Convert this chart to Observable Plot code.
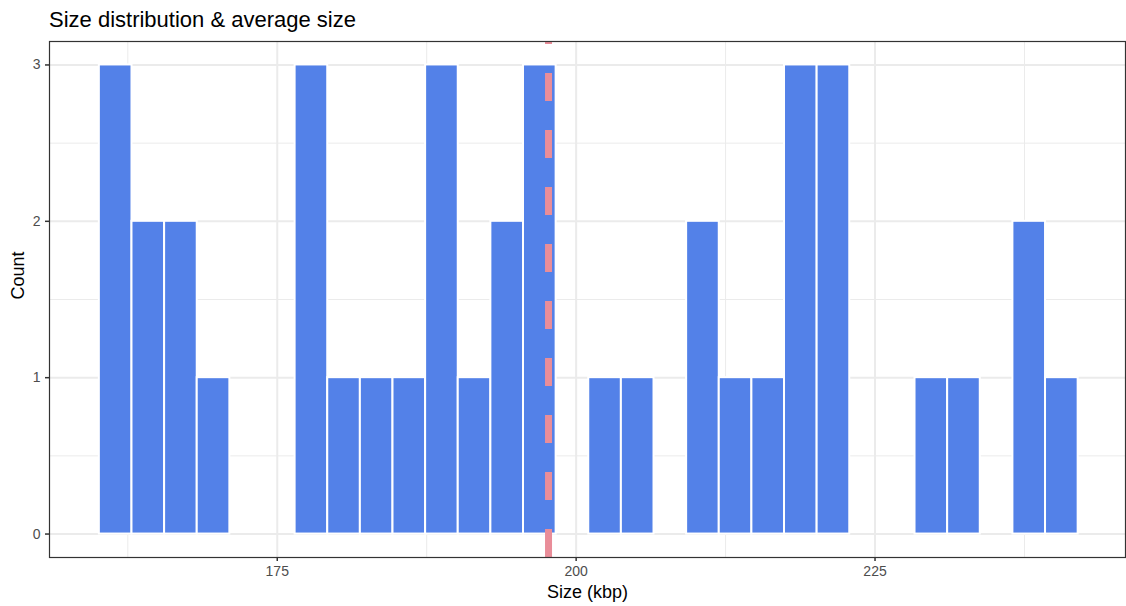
<!DOCTYPE html>
<html><head><meta charset="utf-8">
<script src="https://cdn.jsdelivr.net/npm/d3@7"></script>
<script src="https://cdn.jsdelivr.net/npm/@observablehq/plot@0.6"></script>
<style>
html,body{margin:0;padding:0;background:#fff;overflow:hidden;}
#title{position:relative;height:35px;font-family:"Liberation Sans",Arial,Helvetica,sans-serif;}
#title span{position:absolute;left:49px;top:8.5px;font-size:22px;line-height:22px;color:#000;white-space:nowrap;}
#chart svg{display:block;}
#chart svg g[aria-label="x-axis tick"], #chart svg g[aria-label="y-axis tick"]{stroke:#333;stroke-width:1.5px;}
#chart svg g[aria-label="x-axis tick label"], #chart svg g[aria-label="y-axis tick label"]{font-size:14px;fill:#4D4D4D;}
</style></head><body>
<div id="title"><span>Size distribution &amp; average size</span></div>
<div id="chart"></div>
<script>
// Histogram bins (30 bins, ggplot default)
const binStart = 160.12;
const binWidth = 2.729;
const counts = [3,2,2,1,0,0,3,1,1,1,3,1,2,3,0,1,1,0,2,1,1,3,3,0,0,1,1,0,2,1];
const meanSize = 197.69;
const xTicks = [175, 200, 225];
const xMinor = [162.5, 187.5, 212.5, 237.5];
const yTicks = [0, 1, 2, 3];
const yMinor = [0.5, 1.5, 2.5];
const xLabel = "Size (kbp)";
const yLabel = "Count";

const bins = counts.map((c, i) => ({x1: binStart + i * binWidth, x2: binStart + (i + 1) * binWidth, count: c}));
const xDomain = [155.95, 245.95];
const yDomain = [-0.15, 3.15];

const plot = Plot.plot({
  width: 1126, height: 571,
  marginLeft: 49, marginRight: 1, marginTop: 6, marginBottom: 49,
  style: {fontFamily: '"Liberation Sans", Arial, Helvetica, sans-serif', fontSize: "14px", color: "#4D4D4D", background: "#fff", overflow: "visible"},
  x: {domain: xDomain, ticks: xTicks, tickFormat: d => String(d), tickSize: 4, tickPadding: 5, label: null},
  y: {domain: yDomain, ticks: yTicks, tickFormat: d => String(d), tickSize: 4, tickPadding: 5, label: null},
  marks: [
    Plot.ruleX(xMinor, {stroke: "#EBEBEB", strokeWidth: 1}),
    Plot.ruleY(yMinor, {stroke: "#EBEBEB", strokeWidth: 1}),
    Plot.ruleX(xTicks, {stroke: "#EBEBEB", strokeWidth: 2}),
    Plot.ruleY(yTicks, {stroke: "#EBEBEB", strokeWidth: 2}),
    Plot.rect(bins, {x1: "x1", x2: "x2", y1: 0, y2: "count", fill: "#5381E8", stroke: "white", strokeWidth: 2}),
    Plot.ruleX([meanSize], {y1: yDomain[0], y2: yDomain[1], stroke: "#E98D99", strokeWidth: 7, strokeDasharray: "28,29"}),
    Plot.frame({stroke: "#333333", strokeWidth: 1.2}),
    Plot.text([xLabel], {frameAnchor: "bottom", lineAnchor: "middle", dy: 34.4, text: d => d, fontSize: 18, fill: "#000"}),
    Plot.text([yLabel], {frameAnchor: "left", lineAnchor: "middle", dx: -30.8, rotate: -90, text: d => d, fontSize: 18, fill: "#000"})
  ]
});
document.getElementById("chart").appendChild(plot);
</script>
</body></html>
